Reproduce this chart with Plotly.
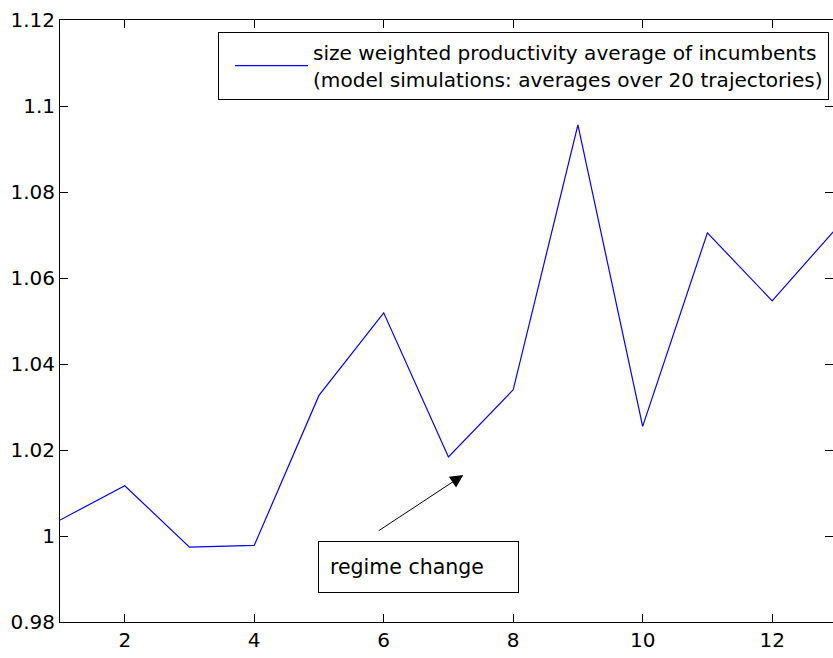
import plotly.graph_objects as go

periods = [1, 2, 3, 4, 5, 6, 7, 8, 9, 10, 11, 12, 13]
productivity = [1.0037, 1.0117, 0.9974, 0.9978, 1.0327, 1.0519, 1.0184, 1.0340,
                1.0956, 1.0255, 1.0705, 1.0547, 1.0717]
x_ticks = [2, 4, 6, 8, 10, 12]
y_ticks = [0.98, 1.0, 1.02, 1.04, 1.06, 1.08, 1.1, 1.12]
y_tick_labels = ["0.98", "1", "1.02", "1.04", "1.06", "1.08", "1.1", "1.12"]
series_name = ("size weighted productivity average of incumbents<br>"
               "(model simulations: averages over 20 trajectories)")

FONT = "DejaVu Sans, Liberation Sans, Arial, sans-serif"
FS = 20

fig = go.Figure()
fig.add_trace(go.Scatter(x=periods, y=productivity, mode="lines",
                         line=dict(color="#0000ff", width=1.2),
                         name=series_name, showlegend=True))
# invisible trace to carry the right-hand tick marks
fig.add_trace(go.Scatter(x=periods, y=productivity, mode="lines", yaxis="y2",
                         line=dict(width=0), hoverinfo="skip", showlegend=False,
                         opacity=0))

fig.add_annotation(x=7.23, y=1.0142, ax=5.90, ay=1.0010,
                   xref="x", yref="y", axref="x", ayref="y",
                   text="", showarrow=True, arrowhead=2, arrowsize=2.6,
                   arrowwidth=1, arrowcolor="black", standoff=0, startstandoff=0)
fig.add_annotation(x=6.537, y=0.9929, xref="x", yref="y",
                   text="regime change", showarrow=False,
                   font=dict(family=FONT, size=20.5, color="black"),
                   align="left", width=177, height=28, borderpad=11,
                   bordercolor="black", borderwidth=1, bgcolor="white")

fig.update_layout(
    width=833, height=658,
    margin=dict(l=60, r=0, t=20, b=36, autoexpand=False),
    paper_bgcolor="white", plot_bgcolor="white",
    font=dict(family=FONT, size=FS, color="black"),
    showlegend=True, hovermode=False,
    legend=dict(x=0.2044, y=0.98, xanchor="left", yanchor="top",
                bordercolor="black", borderwidth=1, bgcolor="white",
                font=dict(family=FONT, size=20.1, color="black"),
                itemwidth=73, indentation=11, tracegroupgap=0),
    xaxis=dict(range=[1, 12.94], tickvals=x_ticks, ticks="inside", ticklen=8,
               tickcolor="black", showline=True, linecolor="black", linewidth=1,
               mirror="ticks", showgrid=False, zeroline=False,
               tickfont=dict(family=FONT, size=FS)),
    yaxis=dict(range=[0.98, 1.12], tickvals=y_ticks, ticktext=y_tick_labels,
               ticks="inside", ticklen=8, tickcolor="black", showline=True,
               linecolor="black", linewidth=1, mirror=False, showgrid=False,
               zeroline=False, tickfont=dict(family=FONT, size=FS)),
    yaxis2=dict(range=[0.98, 1.12], tickvals=y_ticks, overlaying="y", side="right",
                ticks="inside", ticklen=8, tickcolor="black", showline=False,
                showticklabels=False, showgrid=False, zeroline=False),
)

fig.write_html(
    "out.html",
    config={"displayModeBar": False},
    post_script=("document.body.style.margin='0';"
                 "document.documentElement.style.overflow='hidden';"
                 "document.body.style.overflow='hidden';"),
)
